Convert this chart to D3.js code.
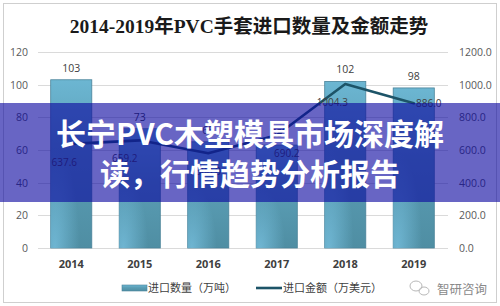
<!DOCTYPE html>
<html>
<head>
<meta charset="utf-8">
<script src="https://cdn.jsdelivr.net/npm/d3@7"></script>
<style>
  html, body { margin: 0; padding: 0; background: #fff; }
  svg { display: block; }
</style>
</head>
<body>
<svg id="chart" width="500" height="306"></svg>
<script>
// Import data, 2014–2019
const years = ["2014", "2015", "2016", "2017", "2018", "2019"];
const quantity = [103, 73, 65, 63, 102, 98];            // 进口数量（万吨）
const amount = [637.6, 659.2, 580.0, 690.2, 1004.3, 886.0]; // 进口金额（万美元）
const leftTicks = [0, 20, 40, 60, 80, 100, 120];
const rightTicks = [0, 200, 400, 600, 800, 1000, 1200];

// Small horizontal nudges for the amount labels so they clear the bars
const amountLabelDx = [-7, -15, 0, 10, -13, 15];

const svg = d3.select("#chart");
const W = 500, H = 306;
const plot = { left: 37, right: 448, top: 52, bottom: 248 };

// Outer frame
svg.append("rect")
  .attr("x", 3.5).attr("y", 3.5).attr("width", 493).attr("height", 299)
  .attr("fill", "#fff").attr("stroke", "#cfcfcf").attr("stroke-width", 1);

// Title
svg.append("text")
  .attr("x", 249).attr("y", 33)
  .attr("text-anchor", "middle")
  .attr("font-family", "'Liberation Serif', 'Noto Sans CJK SC', serif")
  .attr("font-size", 19.5)
  .attr("font-weight", 700)
  .attr("fill", "#1a1a1a")
  .text("2014-2019年PVC手套进口数量及金额走势");

const x = d3.scaleBand().domain(years).range([plot.left, plot.right])
  .paddingInner(0.4).paddingOuter(0.2);
const yL = d3.scaleLinear().domain([0, 120]).range([plot.bottom, plot.top]);
const yR = d3.scaleLinear().domain([0, 1200]).range([plot.bottom, plot.top]);

// Gridlines
svg.append("g").selectAll("line").data(leftTicks).join("line")
  .attr("x1", plot.left + 1).attr("x2", plot.right)
  .attr("y1", d => Math.round(yL(d)) + 0.5).attr("y2", d => Math.round(yL(d)) + 0.5)
  .attr("stroke", "#dadada").attr("stroke-width", 1);

const tickFont = "'Open Sans', 'Noto Sans', sans-serif";

// Left axis
const gl = svg.append("g").attr("transform", `translate(${plot.left},0)`)
  .call(d3.axisLeft(yL).tickValues(leftTicks).tickSize(0).tickPadding(9));
gl.select(".domain").remove();
gl.selectAll("text").attr("font-family", tickFont).attr("font-size", 10.5).attr("fill", "#595959");

// Right axis
const gr = svg.append("g").attr("transform", `translate(${plot.right},0)`)
  .call(d3.axisRight(yR).tickValues(rightTicks).tickFormat(d3.format(".1f")).tickSize(0).tickPadding(11));
gr.select(".domain").remove();
gr.selectAll("text").attr("font-family", tickFont).attr("font-size", 10.5).attr("fill", "#595959");

// X axis
const gx = svg.append("g").attr("transform", `translate(0,${plot.bottom + 8})`)
  .call(d3.axisBottom(x).tickSize(0).tickPadding(4));
gx.select(".domain").remove();
gx.selectAll("text").attr("font-family", tickFont).attr("font-size", 11)
  .attr("font-weight", 700).attr("fill", "#404040");

// Bar gradient
const defs = svg.append("defs");
const grad = defs.append("linearGradient").attr("id", "barGrad")
  .attr("x1", 0).attr("y1", 0).attr("x2", 0).attr("y2", 1);
grad.append("stop").attr("offset", "0%").attr("stop-color", "#6cb6d2");
grad.append("stop").attr("offset", "45%").attr("stop-color", "#5a9db4");
grad.append("stop").attr("offset", "100%").attr("stop-color", "#4f8ea3");
const grad2 = defs.append("radialGradient").attr("id", "barGlow")
  .attr("cx", 0.1).attr("cy", 1).attr("r", 0.6);
grad2.append("stop").attr("offset", "0%").attr("stop-color", "#7cc6e6").attr("stop-opacity", 0.7);
grad2.append("stop").attr("offset", "100%").attr("stop-color", "#7cc6e6").attr("stop-opacity", 0);

// Bars
const bars = svg.append("g");
bars.selectAll("rect.bar").data(quantity).join("rect")
  .attr("class", "bar")
  .attr("x", (d, i) => x(years[i]))
  .attr("y", d => yL(d))
  .attr("width", x.bandwidth())
  .attr("height", d => yL(0) - yL(d))
  .attr("fill", "url(#barGrad)")
  .attr("stroke", "#4a8399").attr("stroke-width", 0.8);
bars.selectAll("rect.glow").data(quantity).join("rect")
  .attr("class", "glow")
  .attr("x", (d, i) => x(years[i]))
  .attr("y", d => yL(d))
  .attr("width", x.bandwidth())
  .attr("height", d => yL(0) - yL(d))
  .attr("fill", "url(#barGlow)");

// Bar value labels
svg.append("g").selectAll("text").data(quantity).join("text")
  .attr("x", (d, i) => x(years[i]) + x.bandwidth() / 2)
  .attr("y", d => yL(d) - 8)
  .attr("text-anchor", "middle")
  .attr("font-family", tickFont).attr("font-size", 10.5).attr("fill", "#404040")
  .text(d => d);

// Amount line
const cx = i => x(years[i]) + x.bandwidth() / 2;
const line = d3.line().x((d, i) => cx(i)).y(d => yR(d));
svg.append("path").datum(amount)
  .attr("d", line)
  .attr("fill", "none")
  .attr("stroke", "#1d5468").attr("stroke-width", 2.6)
  .attr("stroke-linejoin", "round").attr("stroke-linecap", "round");

// Amount labels (below the points; the last one to the right)
svg.append("g").selectAll("text").data(amount).join("text")
  .attr("x", (d, i) => cx(i) + amountLabelDx[i])
  .attr("y", (d, i) => i === amount.length - 1 ? yR(d) + 4 : yR(d) + 22)
  .attr("text-anchor", "middle")
  .attr("font-family", tickFont).attr("font-size", 10).attr("fill", "#404040")
  .text(d => d3.format(".1f")(d));

// Legend
const lg = svg.append("g");
lg.append("rect").attr("x", 122).attr("y", 285).attr("width", 25).attr("height", 6)
  .attr("fill", "url(#barGrad)").attr("stroke", "#4a8399").attr("stroke-width", 0.6);
lg.append("text").attr("x", 148).attr("y", 292)
  .attr("font-family", "'Noto Sans CJK SC', sans-serif").attr("font-size", 11).attr("fill", "#404040")
  .text("进口数量（万吨）");
lg.append("line").attr("x1", 256).attr("x2", 282).attr("y1", 288).attr("y2", 288)
  .attr("stroke", "#1d5468").attr("stroke-width", 2.6);
lg.append("text").attr("x", 283).attr("y", 292)
  .attr("font-family", "'Noto Sans CJK SC', sans-serif").attr("font-size", 11).attr("fill", "#404040")
  .text("进口金额（万美元）");

// Watermark
const wm = svg.append("g").attr("fill", "none").attr("stroke", "#b8b8b8").attr("stroke-width", 1);
wm.append("ellipse").attr("cx", 416).attr("cy", 286).attr("rx", 6).attr("ry", 5);
wm.append("ellipse").attr("cx", 424).attr("cy", 291).attr("rx", 5).attr("ry", 4);
svg.append("text").attr("x", 437).attr("y", 294)
  .attr("font-family", "'Noto Sans CJK SC', sans-serif").attr("font-size", 12.5).attr("fill", "#8a8a8a")
  .text("智研咨询");

// Banner overlay
svg.append("rect").attr("x", 0).attr("y", 103).attr("width", W).attr("height", 99)
  .attr("fill", "rgb(12,6,160)").attr("fill-opacity", 0.62);
const bannerLines = ["长宁PVC木塑模具市场深度解", "读，行情趋势分析报告"];
svg.append("g").selectAll("text").data(bannerLines).join("text")
  .attr("x", 250)
  .attr("y", (d, i) => 145 + i * 40)
  .attr("text-anchor", "middle")
  .attr("font-family", "'Noto Sans CJK SC', sans-serif")
  .attr("font-weight", 700).attr("font-size", 30)
  .attr("fill", "#ffffff")
  .text(d => d);
</script>
</body>
</html>
